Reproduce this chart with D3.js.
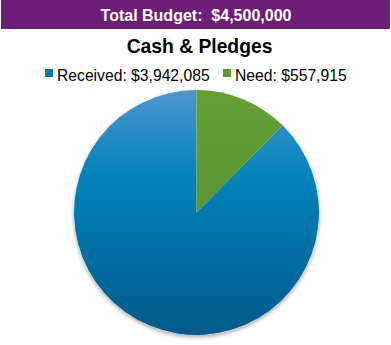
<!DOCTYPE html>
<html><head><meta charset="utf-8">
<script src="https://cdn.jsdelivr.net/npm/d3@7"></script>
<style>body{margin:0;background:#fff}svg{display:block}</style>
</head><body>
<script>
const headerText = "Total Budget:  $4,500,000";
const title = "Cash & Pledges";
const categories = ["Received", "Need"];
const values = [3942085, 557915];
const colors = ["#0a7ab3", "#5f9a33"];

const W = 391, H = 345;
const svg = d3.select("body").append("svg").attr("width", W).attr("height", H);
const defs = svg.append("defs");

const cx = 196.5, cy = 212.5, r = 122.5;

const gB = defs.append("linearGradient").attr("id","gB").attr("gradientUnits","userSpaceOnUse")
  .attr("x1",0).attr("y1",-r).attr("x2",0).attr("y2",r);
gB.append("stop").attr("offset","0").attr("stop-color","#4d97cc");
gB.append("stop").attr("offset","0.35").attr("stop-color","#0283bc");
gB.append("stop").attr("offset","1").attr("stop-color","#005a8a");
const gG = defs.append("linearGradient").attr("id","gG").attr("gradientUnits","userSpaceOnUse")
  .attr("x1",0).attr("y1",-r).attr("x2",0).attr("y2",0);
gG.append("stop").attr("offset","0").attr("stop-color","#659f37");
gG.append("stop").attr("offset","1").attr("stop-color","#5b9530");
const fills = ["url(#gB)", "url(#gG)"];

const f = defs.append("filter").attr("id","sh").attr("x","-20%").attr("y","-20%").attr("width","140%").attr("height","140%");
f.append("feGaussianBlur").attr("in","SourceAlpha").attr("stdDeviation",2);
f.append("feOffset").attr("dx",0).attr("dy",2).attr("result","b");
f.append("feComponentTransfer").append("feFuncA").attr("type","linear").attr("slope",0.35);
const fm = f.append("feMerge"); fm.append("feMergeNode"); fm.append("feMergeNode").attr("in","SourceGraphic");

// header
svg.append("rect").attr("x",1).attr("y",0).attr("width",389).attr("height",29).attr("fill","#6e1e77");
svg.append("text").attr("x",196).attr("y",21).attr("text-anchor","middle")
  .attr("font-family","Liberation Sans, Arial, sans-serif").attr("font-weight","bold").attr("font-size",16)
  .attr("fill","#fff").attr("xml:space","preserve").style("white-space","pre").text(headerText);

svg.append("text").attr("x",199.5).attr("y",53).attr("text-anchor","middle")
  .attr("font-family","Liberation Sans, Arial, sans-serif").attr("font-weight","bold").attr("font-size",19.3)
  .attr("fill","#000").text(title);

// legend
const fmt = d3.format("$,");
const legX = [45, 223];
const lg = svg.append("g");
categories.forEach((c,i)=>{
  lg.append("rect").attr("x",legX[i]).attr("y",69).attr("width",8).attr("height",8).attr("fill",colors[i]);
  lg.append("text").attr("x",legX[i]+12).attr("y",81)
    .attr("font-family","Liberation Sans, Arial, sans-serif").attr("font-size",15.7).attr("fill","#000")
    .text(c + ": " + fmt(values[i]));
});

// pie: Need starts at 12 o'clock going clockwise
const total = d3.sum(values);
const a0 = -2*Math.PI*values[0]/total;
const pie = d3.pie().sort(null).startAngle(a0).endAngle(a0 + 2*Math.PI);
const arcs = pie(values);
const arc = d3.arc().innerRadius(0).outerRadius(r);
const pg = svg.append("g").attr("transform",`translate(${cx},${cy})`);
pg.append("circle").attr("r",r).attr("fill","#ffffff").attr("filter","url(#sh)");
pg.selectAll("path").data(arcs).join("path").attr("d",arc)
  .attr("fill",(d,i)=>fills[i]);
</script>
</body></html>
